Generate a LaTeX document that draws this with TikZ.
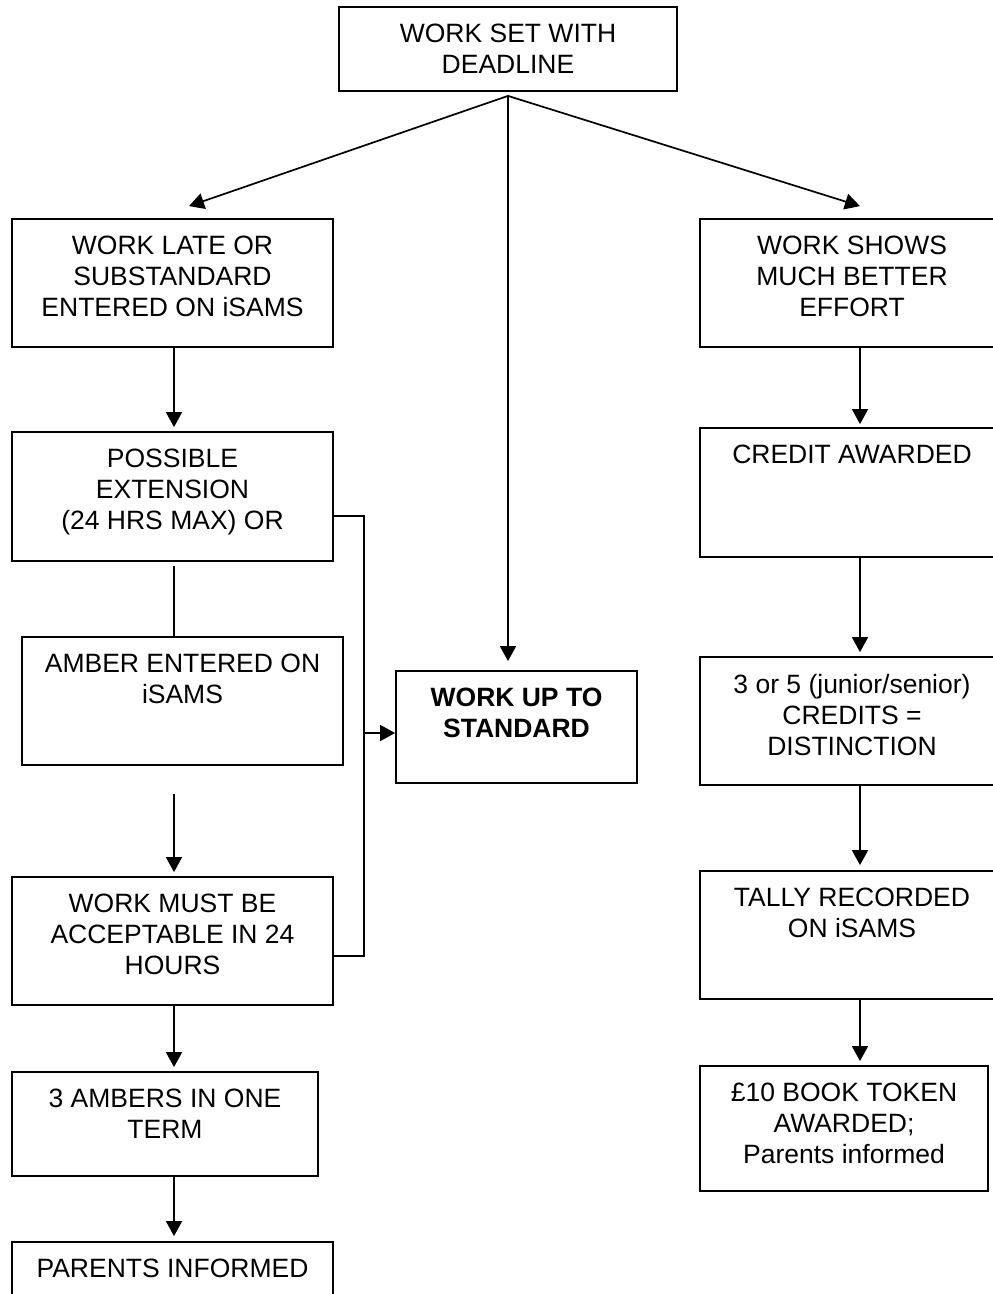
\documentclass[tikz,border=0pt]{standalone}
\usepackage{fontspec}
\setmainfont{Liberation Sans}
\usetikzlibrary{arrows.meta}
\tikzset{
  box/.style={draw, line width=1.8pt, rectangle, inner sep=0pt, fill=white},
  lab/.style={anchor=north, inner sep=0pt, yshift=-18pt, align=center, font=\fontsize{26.5}{31}\selectfont},
  arr/.style={line width=1.7pt, -{Triangle[length=15pt,width=16pt]}},
  conn/.style={line width=1.7pt}
}
\begin{document}
\begin{tikzpicture}[x=1pt,y=-1pt]
\useasboundingbox (0,0) rectangle (993,1294);
\fill[white] (0,0) rectangle (993,1294);
\clip (0,0) rectangle (993,1294);
% boxes
\node[box, minimum width=338pt, minimum height=84pt, label={[lab]north:WORK SET WITH\\DEADLINE}] (top) at (508,49) {};
\node[box, minimum width=321pt, minimum height=128pt, label={[lab]north:WORK LATE OR\\SUBSTANDARD\\ENTERED ON iSAMS}] (late) at (172.5,283) {};
\node[box, minimum width=321pt, minimum height=129pt, label={[lab]north:POSSIBLE\\EXTENSION\\(24 HRS MAX) OR}] (poss) at (172.5,496.5) {};
\node[box, minimum width=321pt, minimum height=128pt, label={[lab]north:AMBER ENTERED ON\\iSAMS}] (amber) at (182.5,701) {};
\node[box, minimum width=321pt, minimum height=128pt, label={[lab]north:WORK MUST BE\\ACCEPTABLE IN 24\\HOURS}] (must) at (172.5,941) {};
\node[box, minimum width=306pt, minimum height=104pt, label={[lab]north:3 AMBERS IN ONE\\TERM}] (three) at (165,1124) {};
\node[box, minimum width=321pt, minimum height=120pt, label={[lab]north:PARENTS INFORMED}] (parents) at (172.5,1302) {};
\node[box, minimum width=241pt, minimum height=112pt, label={[lab, font=\fontsize{26.5}{31}\selectfont\bfseries]north:WORK UP TO\\STANDARD}] (wuts) at (516.5,727) {};
\node[box, minimum width=304pt, minimum height=128pt, label={[lab]north:WORK SHOWS\\MUCH BETTER\\EFFORT}] (shows) at (852,283) {};
\node[box, minimum width=304pt, minimum height=129pt, label={[lab]north:CREDIT AWARDED}] (credit) at (852,492.5) {};
\node[box, minimum width=304pt, minimum height=128pt, label={[lab]north:3 or 5 (junior/senior)\\CREDITS =\\DISTINCTION}] (dist) at (852,721) {};
\node[box, minimum width=304pt, minimum height=128pt, label={[lab]north:TALLY RECORDED\\ON iSAMS}] (tally) at (852,935) {};
\node[box, minimum width=288pt, minimum height=125pt, label={[lab]north:£10 BOOK TOKEN\\AWARDED;\\Parents informed}] (token) at (844,1128.5) {};
% fan-out from top
\coordinate (apex) at ([yshift=-4pt]top.south);
\draw[arr] (apex) -- ([xshift=16.5pt,yshift=12pt]late.north);
\draw[arr] (apex) -- ([yshift=9pt]apex |- wuts.north);
\draw[arr] (apex) -- ([xshift=8pt,yshift=12pt]shows.north);
% left column
\draw[arr] ([xshift=1.5pt]late.south) -- ([xshift=1.5pt,yshift=4pt]poss.north);
\draw[conn] ([xshift=1.5pt,yshift=-4pt]poss.south) -- ([xshift=1.5pt]poss.south |- amber.north);
\draw[arr] ([xshift=1.5pt,yshift=-28pt]must.north |- amber.south) -- ([xshift=1.5pt,yshift=4pt]must.north);
\draw[arr] ([xshift=1.5pt]must.south) -- ([xshift=1.5pt,yshift=4pt]must.south |- three.north);
\draw[arr] ([xshift=1.5pt]parents.north |- three.south) -- ([xshift=1.5pt,yshift=5pt]parents.north);
% bus to WORK UP TO STANDARD
\draw[conn] ([yshift=-19.5pt]poss.east) -- ++(30,0) coordinate (bt) |- ([yshift=-15pt]must.east);
\draw[arr] ([yshift=-6pt]bt |- wuts.west) -- ([yshift=-6pt]wuts.west);
% right column
\draw[arr] ([xshift=8pt]shows.south) -- ([xshift=8pt,yshift=3pt]credit.north);
\draw[arr] ([xshift=8pt]credit.south) -- ([xshift=8pt,yshift=4pt]dist.north);
\draw[arr] ([xshift=8pt]dist.south) -- ([xshift=8pt,yshift=5pt]tally.north);
\draw[arr] ([xshift=8pt]tally.south) -- ([xshift=16pt,yshift=4pt]token.north);
\end{tikzpicture}
\end{document}
